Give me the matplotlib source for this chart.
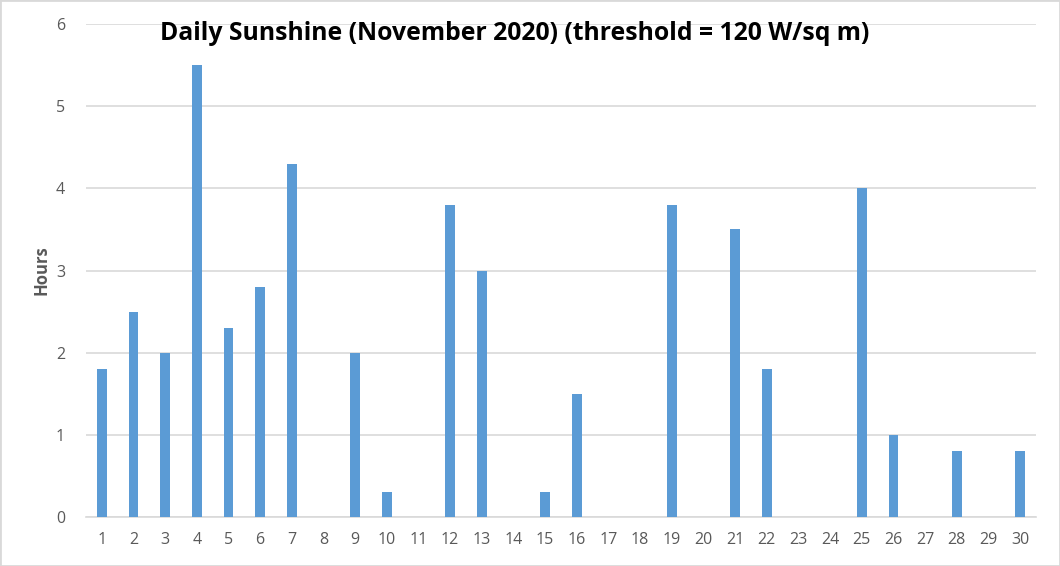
import numpy as np
import matplotlib
matplotlib.use("Agg")
from matplotlib import pyplot as plt
from matplotlib.patches import Rectangle

# data
days = list(range(1, 31))
hours = [1.8, 2.5, 2.0, 5.5, 2.3, 2.8, 4.3, 0, 2.0, 0.3,
         0, 3.8, 3.0, 0, 0.3, 1.5, 0, 0, 3.8, 0,
         3.5, 1.8, 0, 0, 4.0, 1.0, 0, 0.8, 0, 0.8]
yticks = [0, 1, 2, 3, 4, 5, 6]
title = "Daily Sunshine (November 2020) (threshold = 120 W/sq m)"

plt.rcParams['font.family'] = ['Open Sans', 'DejaVu Sans']

fig = plt.figure(figsize=(10.6, 5.66), dpi=100)
ax = fig.add_axes([86/1060, 1 - 517/566, 950/1060, 493/566])

x = np.arange(len(days))
ax.bar(x, hours, width=0.31, color='#5b9bd5', zorder=3)

ax.set_xlim(-0.5, len(days) - 0.5)
ax.set_ylim(0, 6)
ax.set_yticks(yticks)
ax.set_xticks(x)
ax.set_xticklabels([str(d) for d in days])
ax.yaxis.grid(True, color='#d9d9d9', linewidth=1.2, zorder=0)
for s in ['top', 'right', 'left']:
    ax.spines[s].set_visible(False)
ax.spines['bottom'].set_color('#d9d9d9')
ax.spines['bottom'].set_linewidth(1.2)
ax.tick_params(axis='both', length=0, colors='#595959', labelsize=11.5)
ax.tick_params(axis='x', pad=11)
ax.tick_params(axis='y', pad=15)

fig.text(42/1060, 1 - 270/566, "Hours", rotation=90, ha='center', va='center',
         fontsize=12, fontweight='bold', color='#595959')
fig.text(515/1060, 1 - 33/566, title, ha='center', va='center',
         fontsize=17.8, fontweight='bold', color='black')

fig.patches.append(Rectangle((0, 0), 1, 1, transform=fig.transFigure,
                             fill=False, edgecolor='#d9d9d9', linewidth=2))

fig.savefig("out.png", dpi=100)
